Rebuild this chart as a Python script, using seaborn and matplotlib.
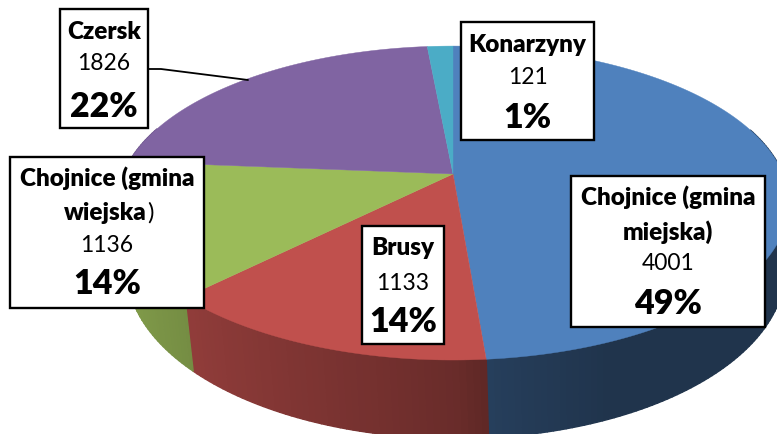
import numpy as np
import seaborn as sns
import matplotlib.pyplot as plt
from matplotlib.collections import PolyCollection
from matplotlib.patches import Rectangle
from matplotlib.colors import to_rgb

# data
names = ["Chojnice (gmina miejska)", "Brusy", "Chojnice (gmina wiejska)", "Czersk", "Konarzyny"]
values = [4001, 1133, 1136, 1826, 121]
percent_labels = ["49%", "14%", "14%", "22%", "1%"]
colors = ["#4F81BD", "#C0504D", "#9BBB59", "#8064A2", "#4BACC6"]

sns.set_theme(style="white")
plt.rcParams["font.family"] = ["Lato", "DejaVu Sans"]

# perspective of the disc, in pixels
cx, cy = 453, 175
rx, ry = 330, 151.6
k = 0.185
depth = 64


def project(theta, drop=False):
    X = np.sin(theta)
    Y = np.cos(theta)
    w = 1 + k * Y
    x = rx * X / w
    y = -ry * Y / w
    if drop:
        return cx + 3 + x * 0.98, cy + y + depth / w
    return cx + x, cy + y


def shade(theta):
    return np.interp(np.sin(theta), [-1, -0.6, 0, 0.1, 0.4, 1], [0.85, 0.72, 0.55, 0.48, 0.4, 0.4])


fig, ax = plt.subplots(figsize=(7.77, 4.35), dpi=100)
fig.subplots_adjust(0, 0, 1, 1)
ax.set_xlim(0, 777)
ax.set_ylim(435, 0)
ax.axis("off")

edges = np.concatenate([[0], np.cumsum(values)]) / np.sum(values) * 2 * np.pi

# side wall, thin strips for the gradient
strips = []
strip_colors = []
for i in range(len(values)):
    th = np.linspace(edges[i], edges[i + 1], max(int((edges[i + 1] - edges[i]) * 60), 2))
    for a, b in zip(th[:-1], th[1:]):
        if np.cos(a) > 0.3 and np.cos(b) > 0.3:
            continue
        x1, y1 = project(a)
        x2, y2 = project(b)
        x3, y3 = project(b, True)
        x4, y4 = project(a, True)
        strips.append([(x1, y1), (x2, y2), (x3, y3), (x4, y4)])
        strip_colors.append(np.array(to_rgb(colors[i])) * shade((a + b) / 2))
ax.add_collection(PolyCollection(strips, facecolors=strip_colors, edgecolors=strip_colors, linewidths=1.0, zorder=1))

# top of the pie
for i in range(len(values)):
    th = np.linspace(edges[i], edges[i + 1], 200)
    x, y = project(th)
    ax.fill(np.r_[cx, x], np.r_[cy, y], color=colors[i], lw=0.3, zorder=2)

# leader line for Czersk
ax.plot([148, 161, 248], [70, 70, 81], color="black", lw=1.3, zorder=3)


def label_box(x0, y0, x1, y1, rows, xc=None):
    ax.add_patch(Rectangle((x0, y0), x1 - x0, y1 - y0, fc="white", ec="black", lw=1.7, zorder=4))
    xc = (x0 + x1) / 2 if xc is None else xc
    for txt, yy, size, weight in rows:
        ax.text(xc, yy, txt, ha="center", va="center", fontsize=size, fontweight=weight, color="black", zorder=5)


name_fs = 17.5
val_fs = 16.5
pct_fs = 24.5
heavy = "heavy"

label_box(60, 10, 148, 129, [("Czersk", 32, name_fs, heavy), (str(values[3]), 64, val_fs, "normal"),
                             (percent_labels[3], 107, pct_fs, heavy)])
label_box(461, 23, 594, 141, [("Konarzyny", 45, name_fs, heavy), (str(values[4]), 78, val_fs, "normal"),
                              (percent_labels[4], 118, pct_fs, heavy)])
label_box(10, 158, 204, 309, [("Chojnice (gmina", 178, name_fs, heavy), (str(values[2]), 246, val_fs, "normal"),
                              (percent_labels[2], 284, pct_fs, heavy)])
# closing bracket is not bold in the original
ax.text(147, 213, "wiejska", ha="right", va="center", fontsize=name_fs, fontweight=heavy, color="black", zorder=5)
ax.text(147, 213, ")", ha="left", va="center", fontsize=name_fs, color="black", zorder=5)
label_box(362, 227, 444, 345, [("Brusy", 248, name_fs, heavy), (str(values[1]), 284, val_fs, "normal"),
                               (percent_labels[1], 322, pct_fs, heavy)])
label_box(571, 177, 765, 328, [("Chojnice (gmina", 197, name_fs, heavy), ("miejska)", 232, name_fs, heavy),
                               (str(values[0]), 264, val_fs, "normal"), (percent_labels[0], 304, pct_fs, heavy)])

fig.savefig("out.png", dpi=100, facecolor="white")
